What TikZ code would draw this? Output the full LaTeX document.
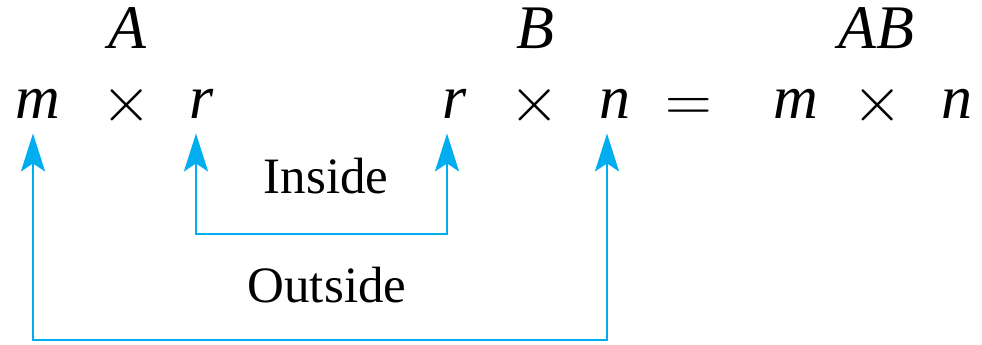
\documentclass[tikz,border=0pt]{standalone}
\usepackage{graphicx}
\usepackage{fontspec}
\setmainfont{Liberation Serif}
\usetikzlibrary{arrows.meta}
\definecolor{linkblue}{RGB}{0,174,239}
\newcommand{\opsym}[1]{\scalebox{1.3}{$#1$}}

\begin{document}
\begin{tikzpicture}[
  x=0.5pt, y=-0.5pt,
  sym/.style={inner sep=0pt, anchor=base, font=\fontsize{31}{36}\selectfont\itshape},
  op/.style={inner sep=0pt, anchor=base, font=\fontsize{24.88}{30}\selectfont},
  lab/.style={inner sep=0pt, anchor=base, font=\fontsize{25.5}{30}\selectfont},
  arr/.style={{Stealth[length=19pt,width=12pt,inset=4pt]}-{Stealth[length=19pt,width=12pt,inset=4pt]}, linkblue, line width=1.3pt},
]
\useasboundingbox (0,0) rectangle (982,344);
% matrix names
\node[sym] (A) at (127,48) {A};
\node[sym] (B) at (535,48) {B};
\node[sym] (AB) at (876,48) {AB};
% sizes
\node[sym] (m1) at (38,118) {m};
\node[op] (x1) at (127,121) {\opsym{\times}};
\node[sym] (r1) at (202,118) {r};
\node[sym] (r2) at (455,118) {r};
\node[op] (x2) at (535,121) {\opsym{\times}};
\node[sym] (n1) at (615,118) {n};
\node[op] (eq) at (689,121) {\opsym{=}};
\node[sym] (m2) at (796,118) {m};
\node[op] (x3) at (878,121) {\opsym{\times}};
\node[sym] (n2) at (957,118) {n};
% labels
\node[lab] (inside) at (326,193) {Inside};
\node[lab] (outside) at (327,302) {Outside};
% brackets
\coordinate (rtip) at ([xshift=-3pt,yshift=-7.5pt]r1.south);
\coordinate (rrtip) at ([xshift=-4pt,yshift=-7.5pt]r2.south);
\coordinate (mtip) at ([xshift=-2.5pt,yshift=-7.5pt]m1.south);
\coordinate (ntip) at ([xshift=-4pt,yshift=-7.5pt]n1.south);
\coordinate (inbot) at (0,234);
\coordinate (outbot) at (0,340);
\draw[arr] (rtip) -- (rtip |- inbot) -| (rrtip);
\draw[arr] (mtip) -- (mtip |- outbot) -| (ntip);
\end{tikzpicture}
\end{document}
